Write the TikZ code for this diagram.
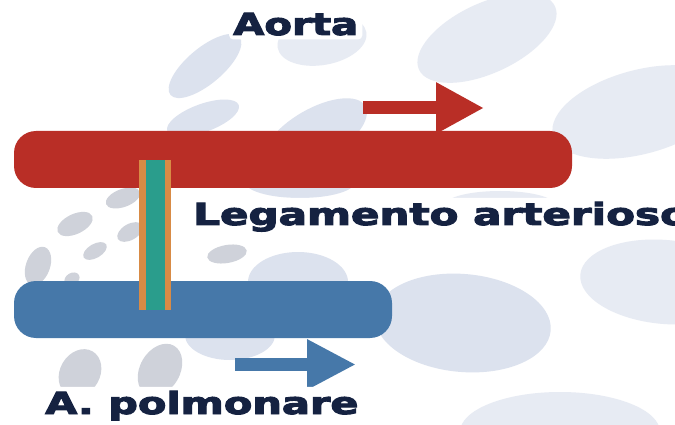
\documentclass[tikz,border=0pt]{standalone}
\usepackage{fontspec}
\newfontfamily\lblfont{DejaVu Sans}[FakeBold=3]
\usetikzlibrary{positioning,arrows.meta}
\definecolor{aortared}{HTML}{B92E26}
\definecolor{pulmblue}{HTML}{4678A9}
\definecolor{ligorange}{HTML}{D88B45}
\definecolor{ligteal}{HTML}{2A9D8C}
\definecolor{labelink}{HTML}{152241}
\definecolor{dotmain}{HTML}{DCE2EE}
\definecolor{dotgray}{HTML}{CFD2DA}
\definecolor{dotfaint}{HTML}{E7EBF3}

\begin{document}
\begin{tikzpicture}[x=1pt,y=-1pt,font=\lblfont\fontsize{30.5}{36}\selectfont\bfseries]
  \tikzset{
    vessel/.style={rounded corners=22pt,inner sep=0pt},
    lbl/.style={fill=white,rounded corners=4pt,text=labelink,inner sep=4pt,anchor=base west},
    flow/.style={line width=13pt},
  }
  \useasboundingbox (0,0) rectangle (675,425);
  \clip (0,0) rectangle (675,425);
  \fill[white] (0,0) rectangle (675,425);
  % background dots
  \foreach \cx/\cy/\rx/\ry/\ang/\col in {
      487/38/75/35/25/dotfaint, 640/112/90/42/15/dotfaint,
      463/323/88/49/-5/dotmain, 665/282/85/42/-5/dotfaint,
      560/432/100/40/0/dotfaint, 205/66/45/18/40/dotmain,
      322/40/45/25/10/dotfaint, 203/118/38/14/20/dotmain,
      315/135/58/26/30/dotmain, 300/182/55/16/0/dotmain,
      500/205/55/14/0/dotfaint, 123/198/18/9/20/dotgray,
      75/224/19/10/25/dotgray, 130/232/14/8/30/dotgray,
      95/251/13/7/30/dotgray, 38/266/20/12/70/dotgray,
      72/279/8/6/30/dotgray, 227/254/20/9/10/dotgray,
      298/282/50/30/0/dotmain, 230/335/45/25/0/dotmain,
      80/373/25/20/60/dotgray, 160/370/28/20/60/dotgray}
    \fill[\col,rotate around={\ang:(\cx,\cy)}] (\cx,\cy) ellipse[x radius=\rx,y radius=\ry];

  \node[vessel,fill=aortared,minimum width=558pt,minimum height=57pt] (aorta) at (293,159.5) {};
  \node[vessel,fill=pulmblue,minimum width=378pt,minimum height=57pt] (pulm) at (203,309.5) {};
  \node[fill=ligorange,inner sep=0pt,minimum width=32pt,minimum height=150pt] (lig) at (155,235) {};
  \fill[ligteal] ([xshift=7pt]lig.north west) rectangle ([xshift=-6pt]lig.south east);

  \coordinate (aoS) at (363,108);
  \coordinate (aoE) at (484,108);
  \coordinate (paS) at (235,364.5);
  \coordinate (paE) at (356,364.5);
  \draw[flow,aortared,-{Triangle[length=48pt,width=48pt]}] (aoS) -- (aoE);
  \draw[flow,pulmblue,-{Triangle[length=49pt,width=47pt]}] (paS) -- (paE);

  \node[lbl] (aortalbl) at (229,35) {\scalebox{1.32}[1]{Aorta}};
  \node[lbl] (liglbl) at (189,225) {\scalebox{1.38}[1]{Legamento arterioso}};
  \node[lbl] (pulmlbl) at (41,414) {\scalebox{1.36}[1]{A. polmonare}};
\end{tikzpicture}
\end{document}
